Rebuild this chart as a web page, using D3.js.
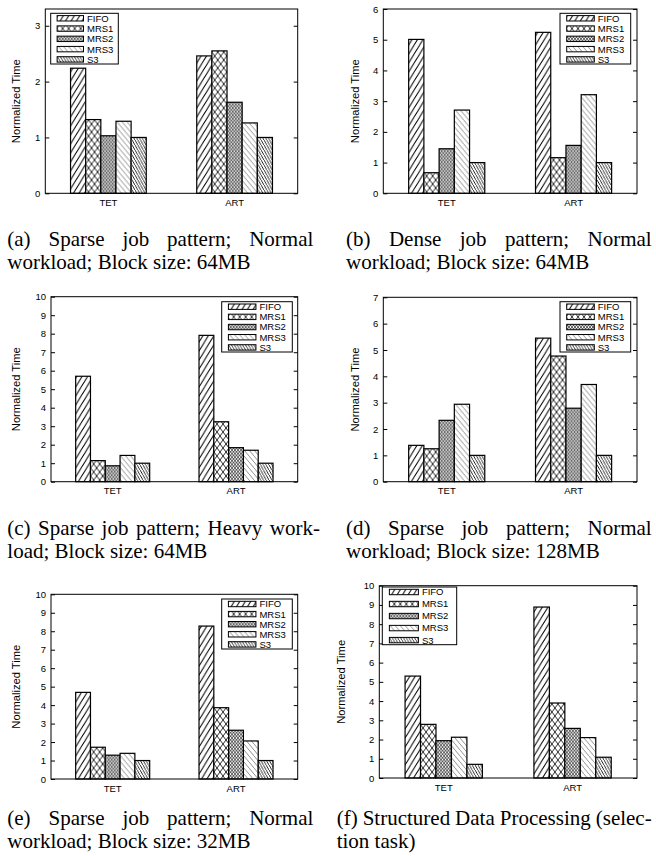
<!DOCTYPE html>
<html>
<head>
<meta charset="utf-8">
<script src="https://cdn.jsdelivr.net/npm/d3@7"></script>
<style>
  body { margin: 0; background: #fff; }
  .tick text, .lab { font-family: "Liberation Sans Narrow", "Arial Narrow", "Liberation Sans", sans-serif; font-size: 9.5px; fill: #000; }
  .ylab { font-family: "Liberation Sans", Arial, sans-serif; font-size: 10px; fill: #000; }
  .cap { font-family: "Liberation Serif", "Times New Roman", serif; font-size: 21px; fill: #000; }
</style>
</head>
<body>
<script>
const categories = ['TET', 'ART'];
const schedulers = ['FIFO', 'MRS1', 'MRS2', 'MRS3', 'S3'];

// normalized time: one row per category (TET, ART), one value per scheduler
const sparseNormal64 = [[2.24, 1.32, 1.03, 1.29, 1.00], [2.46, 2.55, 1.63, 1.26, 1.00]];
const denseNormal64 = [[5.01, 0.67, 1.45, 2.71, 1.00], [5.24, 1.16, 1.56, 3.21, 1.00]];
const sparseHeavy64 = [[5.70, 1.14, 0.86, 1.42, 1.00], [7.91, 3.24, 1.84, 1.70, 1.00]];
const sparseNormal128 = [[1.38, 1.25, 2.33, 2.94, 1.00], [5.45, 4.77, 2.79, 3.69, 1.00]];
const sparseNormal32 = [[4.69, 1.72, 1.29, 1.39, 1.00], [8.28, 3.86, 2.64, 2.06, 1.00]];
const structuredSelect = [[5.30, 2.79, 1.94, 2.12, 0.71], [8.89, 3.90, 2.58, 2.10, 1.08]];

// y tick labels
const ticks3 = [0, 1, 2, 3];
const ticks6 = [0, 1, 2, 3, 4, 5, 6];
const ticks7 = [0, 1, 2, 3, 4, 5, 6, 7];
const ticks10 = [0, 1, 2, 3, 4, 5, 6, 7, 8, 9, 10];

const captionA = ['(a) Sparse job pattern; Normal', 'workload; Block size: 64MB'];
const captionB = ['(b) Dense job pattern; Normal', 'workload; Block size: 64MB'];
const captionC = ['(c) Sparse job pattern; Heavy work-', 'load; Block size: 64MB'];
const captionD = ['(d) Sparse job pattern; Normal', 'workload; Block size: 128MB'];
const captionE = ['(e) Sparse job pattern; Normal', 'workload; Block size: 32MB'];
const captionF = ['(f) Structured Data Processing (selec-', 'tion task)'];

// layout of each sub-figure (frame = left, top, right, bottom)
const panels = [
  { values: sparseNormal64, yMax: 3.3, ticks: ticks3, frame: [45.3, 9, 297.7, 193.3], ylabX: 16,
    legend: { x: 50.7, y: 13.3, w: 67.6, h: 50.7 }, caption: captionA, cap: [7.3, 313.3, 245.5] },
  { values: denseNormal64, yMax: 6, ticks: ticks6, frame: [383.3, 9, 637, 193.3], ylabX: 355,
    legend: { x: 560, y: 13.3, w: 70.7, h: 50.7 }, caption: captionB, cap: [346, 651.7, 245.5] },
  { values: sparseHeavy64, yMax: 10, ticks: ticks10, frame: [51, 296.7, 297.7, 481.7], ylabX: 16.7,
    legend: { x: 221.7, y: 301.7, w: 70.6, h: 50.3 }, caption: captionC, cap: [7.3, 320, 535] },
  { values: sparseNormal128, yMax: 7, ticks: ticks7, frame: [383.3, 297.3, 637, 481.7], ylabX: 355,
    legend: { x: 560, y: 301.7, w: 70.7, h: 50.3 }, caption: captionD, cap: [346, 651.7, 535] },
  { values: sparseNormal32, yMax: 10, ticks: ticks10, frame: [51, 594.3, 297.7, 779], ylabX: 16.7,
    legend: { x: 221.7, y: 599, w: 70.6, h: 50 }, caption: captionE, cap: [7.3, 313.3, 824.5] },
  { values: structuredSelect, yMax: 10, ticks: ticks10, frame: [379.3, 585.7, 637, 778], ylabX: 341.7,
    legend: { x: 382.3, y: 587, w: 74.4, h: 57.7 }, caption: captionF, cap: [336.7, 651.7, 824.5] }
];

const svg = d3.select('body').append('svg')
  .attr('width', 656)
  .attr('height', 856);

// hatch patterns, one per scheduler
const defs = svg.append('defs');
const hatches = [
  { w: 5.5, h: 9, d: (w, h) => `M0,${h} L${w},0 M-1,1 L1,-1 M${w - 1},${h + 1} L${w + 1},${h - 1}`, sw: 1, c: '#000' },
  { w: 6, h: 8, d: (w, h) => `M0,0 L${w},${h} M${w},0 L0,${h}`, sw: 0.85, c: '#000' },
  { w: 3, h: 3.6, d: (w, h) => `M0,0 L${w},${h} M${w},0 L0,${h}`, sw: 0.65, c: '#000' },
  { w: 5, h: 6, d: (w, h) => `M0,0 L${w},${h} M-1,${h - 1} L1,${h + 1} M${w - 1},-1 L${w + 1},1`, sw: 0.55, c: '#333' },
  { w: 2.8, h: 5, d: (w, h) => `M0,0 L${w},${h} M-1,${h - 1} L1,${h + 1} M${w - 1},-1 L${w + 1},1`, sw: 0.85, c: '#000' }
];
hatches.forEach((p, i) => {
  const pat = defs.append('pattern')
    .attr('id', 'pat' + i)
    .attr('patternUnits', 'userSpaceOnUse')
    .attr('width', p.w)
    .attr('height', p.h);
  pat.append('rect').attr('width', p.w).attr('height', p.h).attr('fill', '#fff');
  pat.append('path').attr('d', p.d(p.w, p.h)).attr('stroke', p.c).attr('stroke-width', p.sw).attr('fill', 'none');
});

function drawCaption(lines, x0, x1, y) {
  const lh = 23;
  const g = svg.append('g');
  lines.forEach((line, i) => {
    const yy = y + i * lh;
    if (i < lines.length - 1) {
      // justified line
      const words = line.split(' ');
      const nodes = words.map(w => g.append('text').attr('class', 'cap').attr('y', yy).text(w));
      const widths = nodes.map(n => n.node().getComputedTextLength());
      const gap = (x1 - x0 - d3.sum(widths)) / (words.length - 1);
      let x = x0;
      nodes.forEach((n, j) => { n.attr('x', x); x += widths[j] + gap; });
    } else {
      g.append('text').attr('class', 'cap').attr('x', x0).attr('y', yy).text(line);
    }
  });
}

panels.forEach(p => {
  const [left, top, right, bottom] = p.frame;
  const graph = svg.append('g');

  const y = d3.scaleLinear()
    .domain([0, p.yMax])
    .range([bottom, top]);

  const x0 = d3.scaleBand()
    .domain(categories)
    .range([left, right])
    .paddingInner(0.4)
    .paddingOuter(0.2);

  const x1 = d3.scaleBand()
    .domain(schedulers)
    .range([0, x0.bandwidth()]);

  // bars
  graph.selectAll('g.cat')
    .data(p.values)
    .enter().append('g')
    .attr('class', 'cat')
    .attr('transform', (d, i) => `translate(${x0(categories[i])},0)`)
    .selectAll('rect')
    .data(d => d)
    .enter().append('rect')
    .attr('x', (d, i) => x1(schedulers[i]))
    .attr('y', d => y(d))
    .attr('width', x1.bandwidth())
    .attr('height', d => y(0) - y(d))
    .attr('fill', (d, i) => `url(#pat${i})`)
    .attr('stroke', '#000')
    .attr('stroke-width', 1.2);

  // axes
  const yAxis = d3.axisLeft(y).tickValues(p.ticks).tickFormat(d3.format('d')).tickSizeInner(-4).tickSizeOuter(0).tickPadding(5);
  const yAxisR = d3.axisRight(y).tickValues(p.ticks).tickFormat('').tickSizeInner(-4).tickSizeOuter(0);
  const xAxis = d3.axisBottom(x0).tickSize(0).tickPadding(6);

  const yg = graph.append('g').attr('transform', `translate(${left},0)`).call(yAxis);
  const yr = graph.append('g').attr('transform', `translate(${right},0)`).call(yAxisR);
  const xg = graph.append('g').attr('transform', `translate(0,${bottom})`).call(xAxis);
  [yg, yr, xg].forEach(a => {
    a.select('.domain').remove();
    a.attr('font-family', null).attr('font-size', null);
    a.selectAll('line').attr('stroke', '#000');
  });

  // frame
  graph.append('rect')
    .attr('x', left).attr('y', top)
    .attr('width', right - left).attr('height', bottom - top)
    .attr('fill', 'none').attr('stroke', '#000').attr('stroke-width', 1);

  graph.append('text')
    .attr('class', 'ylab')
    .attr('transform', `translate(${p.ylabX},${(top + bottom) / 2}) rotate(-90)`)
    .attr('text-anchor', 'middle')
    .attr('dy', '0.35em')
    .attr('textLength', 84)
    .attr('lengthAdjust', 'spacingAndGlyphs')
    .text('Normalized Time');

  // legend
  const L = p.legend;
  const lg = graph.append('g').attr('transform', `translate(${L.x},${L.y})`);
  lg.append('rect').attr('width', L.w).attr('height', L.h).attr('fill', '#fff').attr('stroke', '#000').attr('stroke-width', 1);
  const sw = L.w * 0.39, sx = L.w * 0.095, step = (L.h - 9.6) / 4;
  const item = lg.selectAll('g.item')
    .data(schedulers)
    .enter().append('g')
    .attr('class', 'item')
    .attr('transform', (d, i) => `translate(0,${5 + i * step})`);
  item.append('rect')
    .attr('x', sx).attr('y', -2.7)
    .attr('width', sw).attr('height', 5.4)
    .attr('fill', (d, i) => `url(#pat${i})`)
    .attr('stroke', '#000').attr('stroke-width', 1);
  item.append('text')
    .attr('class', 'lab')
    .attr('x', sx + sw + 3.5)
    .attr('y', 3.4)
    .text(d => d);

  drawCaption(p.caption, p.cap[0], p.cap[1], p.cap[2]);
});
</script>
</body>
</html>
